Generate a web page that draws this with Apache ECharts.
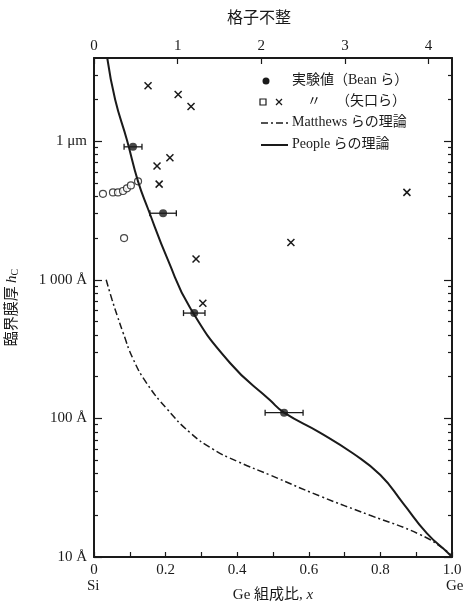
<!DOCTYPE html>
<html>
<head>
<meta charset="utf-8">
<script src="https://cdn.jsdelivr.net/npm/echarts@6/dist/echarts.min.js"></script>
<style>
  html, body { margin: 0; padding: 0; background: #fff; }
  #chart { width: 469px; height: 602px; }
</style>
</head>
<body>
<div id="chart"></div>
<script>
// 臨界膜厚 vs Ge 組成比 (縦軸は Å, 図上では log10 にして描く)
const peopleX = [0.037, 0.059, 0.092, 0.123, 0.151, 0.207, 0.268, 0.38, 0.492, 0.531, 0.631, 0.723, 0.80, 0.863, 0.93, 0.989, 1.0];
const peopleH = [39800, 20000, 10200, 5130, 3240, 1380, 631, 251, 135, 110, 79, 56, 39, 24.5, 14.8, 10.7, 10];

const matthewsX = [0.034, 0.05, 0.065, 0.081, 0.109, 0.148, 0.204, 0.268, 0.332, 0.40, 0.492, 0.631, 0.771, 0.911, 0.986, 1.0];
const matthewsH = [1000, 724, 550, 417, 269, 178, 117, 79, 60, 49, 39, 27.5, 20, 14.5, 11, 10];

// 実験値 (Bean ら) : x, hc, x の誤差
const beanX = [0.109, 0.193, 0.28, 0.531];
const beanH = [9100, 3020, 575, 110];
const beanErr = [0.025, 0.037, 0.03, 0.053];

// 矢口ら : 白丸と ×
const yaguchiOpenX = [0.025, 0.053, 0.067, 0.081, 0.092, 0.103, 0.123, 0.084];
const yaguchiOpenH = [4170, 4270, 4270, 4370, 4570, 4790, 5130, 2000];
const yaguchiCrossX = [0.151, 0.235, 0.271, 0.212, 0.176, 0.182, 0.285, 0.304, 0.55, 0.874];
const yaguchiCrossH = [25100, 21700, 17800, 7590, 6610, 4900, 1410, 676, 1860, 4270];

// 軸の目盛
const xTickLabels = ['0', '0.2', '0.4', '0.6', '0.8', '1.0'];
const mismatchTicks = [0, 1, 2, 3, 4];
const hMajorTicks = [10, 100, 1000, 10000];
const hMajorLabels = ['10 Å', '100 Å', '1 000 Å', '1 μm'];
const hMin = 10, hMax = 39800;
const mismatchMax = 4.28;

const FONT = "'Liberation Serif', 'Noto Sans CJK JP', serif";
const INK = '#1a1a1a';

const lg = Math.log10;
const yMin = lg(hMin), yMax = lg(hMax);
const majorLog = hMajorTicks.map(lg);
const minorLog = [];
hMajorTicks.forEach(base => {
  for (let k = 2; k <= 9; k++) {
    const v = lg(base * k);
    if (v <= yMax) minorLog.push(v);
  }
});
function hLabel(v) {
  const i = majorLog.findIndex(m => Math.abs(m - v) < 1e-6);
  return i >= 0 ? hMajorLabels[i] : '';
}

const pair = (xs, hs) => xs.map((x, i) => [x, lg(hs[i])]);

function yAx(position, ticks, len, withLine, withLabels) {
  return {
    type: 'value', position, min: yMin, max: yMax,
    axisLine: { show: withLine, lineStyle: { color: INK, width: 2 } },
    axisTick: { show: true, inside: true, length: len, customValues: ticks, lineStyle: { color: INK, width: 1.2 } },
    axisLabel: withLabels ? {
      show: true, customValues: majorLog, formatter: hLabel, margin: 7,
      fontFamily: FONT, fontSize: 15, color: INK
    } : { show: false },
    splitLine: { show: false }
  };
}

const chart = echarts.init(document.getElementById('chart'));
chart.setOption({
  animation: false,
  backgroundColor: '#fff',
  grid: { left: 94, right: 17, top: 58, bottom: 45, outerBoundsMode: 'none', containLabel: false },
  xAxis: [
    {
      type: 'value', position: 'bottom', min: 0, max: 1, interval: 0.2,
      name: '{a|Ge 組成比, }{i|x}', nameLocation: 'middle', nameGap: 31,
      nameTextStyle: { rich: {
        a: { fontFamily: FONT, fontSize: 15, color: INK },
        i: { fontFamily: FONT, fontSize: 15, fontStyle: 'italic', color: INK }
      } },
      axisLine: { lineStyle: { color: INK, width: 2 } },
      axisTick: { inside: true, length: 5, lineStyle: { color: INK, width: 1.2 } },
      minorTick: { show: true, splitNumber: 2, length: 5, lineStyle: { color: INK, width: 1.2 } },
      axisLabel: { margin: 6, fontFamily: FONT, fontSize: 15, color: INK,
        formatter: v => xTickLabels[Math.round(v / 0.2)] || '' },
      splitLine: { show: false }
    },
    {
      type: 'value', position: 'top', min: 0, max: mismatchMax, interval: 1,
      axisLine: { lineStyle: { color: INK, width: 2 } },
      axisTick: { inside: true, length: 6, customValues: mismatchTicks, lineStyle: { color: INK, width: 1.2 } },
      axisLabel: { margin: 4, fontFamily: FONT, fontSize: 15, color: INK, customValues: mismatchTicks,
        formatter: v => String(v) },
      splitLine: { show: false }
    }
  ],
  yAxis: [
    Object.assign(yAx('left', majorLog, 8, true, true), {
      name: '{a|臨界膜厚} {i|h}{s|C}', nameLocation: 'middle', nameGap: 74, nameRotate: 90,
      nameTextStyle: { rich: {
        a: { fontFamily: FONT, fontSize: 15, color: INK },
        i: { fontFamily: FONT, fontSize: 15, fontStyle: 'italic', color: INK },
        s: { fontFamily: FONT, fontSize: 10, color: INK, padding: [6, 0, 0, 0] }
      } }
    }),
    yAx('left', minorLog, 4, false, false),
    yAx('right', majorLog, 8, true, false),
    yAx('right', minorLog, 4, false, false)
  ],
  graphic: [
    { type: 'text', left: 227, top: 11, style: { text: '格子不整', font: '16px ' + FONT, fill: INK } },
    { type: 'text', left: 87, top: 579, style: { text: 'Si', font: '15px ' + FONT, fill: INK } },
    { type: 'text', left: 446, top: 579, style: { text: 'Ge', font: '15px ' + FONT, fill: INK } },
    // 凡例
    { type: 'circle', shape: { cx: 266, cy: 81, r: 3.5 }, style: { fill: INK } },
    { type: 'text', left: 292, top: 73, style: { text: '実験値（Bean ら）', font: '14px ' + FONT, fill: INK } },
    { type: 'rect', shape: { x: 260, y: 99, width: 6, height: 6 }, style: { fill: '#fff', stroke: INK, lineWidth: 1.2 } },
    { type: 'line', shape: { x1: 276, y1: 99, x2: 282, y2: 105 }, style: { stroke: INK, lineWidth: 1.3 } },
    { type: 'line', shape: { x1: 282, y1: 99, x2: 276, y2: 105 }, style: { stroke: INK, lineWidth: 1.3 } },
    { type: 'text', left: 307, top: 94, style: { text: '〃', font: '14px ' + FONT, fill: INK } },
    { type: 'text', left: 336, top: 94, style: { text: '（矢口ら）', font: '14px ' + FONT, fill: INK } },
    { type: 'line', shape: { x1: 261, y1: 123, x2: 288, y2: 123 }, style: { stroke: INK, lineWidth: 1.5, lineDash: [7, 3, 2, 3] } },
    { type: 'text', left: 292, top: 115, style: { text: 'Matthews らの理論', font: '14px ' + FONT, fill: INK } },
    { type: 'line', shape: { x1: 261, y1: 145, x2: 288, y2: 145 }, style: { stroke: INK, lineWidth: 2 } },
    { type: 'text', left: 292, top: 137, style: { text: 'People らの理論', font: '14px ' + FONT, fill: INK } }
  ],
  series: [
    {
      name: 'People', type: 'line', smooth: 0.5, showSymbol: false, clip: true,
      data: pair(peopleX, peopleH), lineStyle: { color: INK, width: 2 }
    },
    {
      name: 'Matthews', type: 'line', smooth: 0.5, showSymbol: false, clip: true,
      data: pair(matthewsX, matthewsH), lineStyle: { color: INK, width: 1.5, type: [7, 3, 2, 3] }
    },
    {
      name: 'Bean誤差', type: 'custom',
      data: beanX.map((x, i) => [x, lg(beanH[i]), beanErr[i]]),
      encode: { x: 0, y: 1 },
      renderItem: (params, api) => {
        const y = api.value(1), x = api.value(0), e = api.value(2);
        const a = api.coord([x - e, y]), b = api.coord([x + e, y]);
        const st = { stroke: INK, lineWidth: 1.3 };
        return { type: 'group', children: [
          { type: 'line', shape: { x1: a[0], y1: a[1], x2: b[0], y2: b[1] }, style: st },
          { type: 'line', shape: { x1: a[0], y1: a[1] - 3, x2: a[0], y2: a[1] + 3 }, style: st },
          { type: 'line', shape: { x1: b[0], y1: b[1] - 3, x2: b[0], y2: b[1] + 3 }, style: st }
        ] };
      }
    },
    {
      name: 'Bean', type: 'scatter', symbol: 'circle', symbolSize: 8,
      data: pair(beanX, beanH), itemStyle: { color: INK }
    },
    {
      name: '矢口ら○', type: 'scatter', symbol: 'circle', symbolSize: 7,
      data: pair(yaguchiOpenX, yaguchiOpenH),
      itemStyle: { color: '#fff', borderColor: INK, borderWidth: 1.2 }
    },
    {
      name: '矢口ら×', type: 'custom',
      data: pair(yaguchiCrossX, yaguchiCrossH),
      encode: { x: 0, y: 1 },
      renderItem: (params, api) => {
        const p = api.coord([api.value(0), api.value(1)]);
        const s = 3.5;
        const st = { stroke: INK, lineWidth: 1.5 };
        return { type: 'group', children: [
          { type: 'line', shape: { x1: p[0] - s, y1: p[1] - s, x2: p[0] + s, y2: p[1] + s }, style: st },
          { type: 'line', shape: { x1: p[0] + s, y1: p[1] - s, x2: p[0] - s, y2: p[1] + s }, style: st }
        ] };
      }
    }
  ]
});
</script>
</body>
</html>
